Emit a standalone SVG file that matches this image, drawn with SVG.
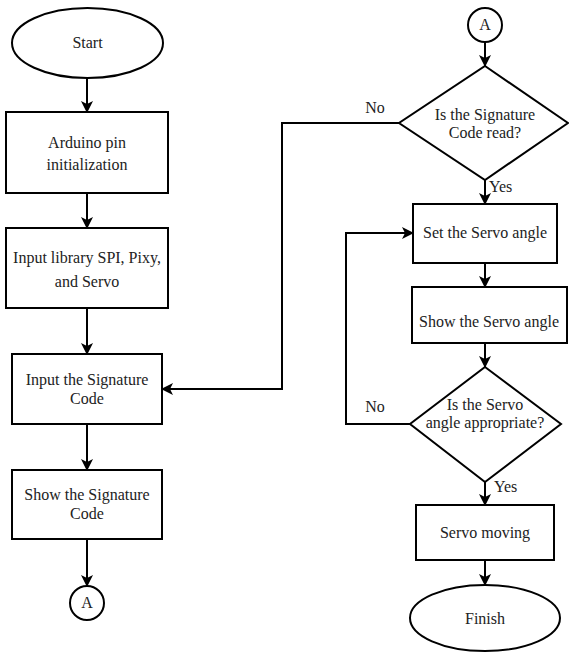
<svg xmlns="http://www.w3.org/2000/svg" width="569" height="653" viewBox="0 0 569 653">
<style>
.s{fill:#fff;stroke:#000;stroke-width:2}
.c{fill:none;stroke:#000;stroke-width:2}
text{font-family:'Liberation Serif','DejaVu Serif',serif;font-size:16px;fill:#222;text-anchor:middle}
.l{text-anchor:start}
</style>
<defs>
<marker id="ah" viewBox="0 0 12 12" refX="11" refY="6" markerWidth="12" markerHeight="12" markerUnits="userSpaceOnUse" orient="auto">
<path d="M0,0 L12,6 L0,12 L3,6 z" fill="#000"/>
</marker>
</defs>
<rect width="569" height="653" fill="#fff"/>
<g id="connectors">
<path class="c" d="M87,78 V112" marker-end="url(#ah)"/>
<path class="c" d="M87,193 V228" marker-end="url(#ah)"/>
<path class="c" d="M87,308 V354" marker-end="url(#ah)"/>
<path class="c" d="M87,424 V470" marker-end="url(#ah)"/>
<path class="c" d="M87,539 V586" marker-end="url(#ah)"/>
<path class="c" d="M485,42 V66" marker-end="url(#ah)"/>
<path class="c" d="M399,123 H282 V389 H162" marker-end="url(#ah)"/>
<path class="c" d="M485,180 V204" marker-end="url(#ah)"/>
<path class="c" d="M485,263 V287" marker-end="url(#ah)"/>
<path class="c" d="M485,343 V367" marker-end="url(#ah)"/>
<path class="c" d="M410,424 H346 V233 H413" marker-end="url(#ah)"/>
<path class="c" d="M485,482 V505" marker-end="url(#ah)"/>
<path class="c" d="M485,560 V585" marker-end="url(#ah)"/>
<text x="375" y="113">No</text>
<text class="l" x="489" y="192">Yes</text>
<text x="375" y="412">No</text>
<text class="l" x="494" y="492">Yes</text>
</g>
<g id="start">
<ellipse class="s" cx="87.5" cy="43" rx="75.5" ry="35"/>
<text x="87.5" y="48">Start</text>
</g>
<g id="init">
<rect class="s" x="6" y="112" width="162" height="81"/>
<text x="87" y="148">Arduino pin</text>
<text x="87" y="170">initialization</text>
</g>
<g id="library">
<rect class="s" x="6" y="228" width="162" height="80"/>
<text x="87" y="263">Input library SPI, Pixy,</text>
<text x="87" y="287">and Servo</text>
</g>
<g id="inputsig">
<rect class="s" x="12" y="354" width="150" height="70"/>
<text x="87" y="385">Input the Signature</text>
<text x="87" y="404">Code</text>
</g>
<g id="showsig">
<rect class="s" x="12" y="470" width="150" height="69"/>
<text x="87" y="500">Show the Signature</text>
<text x="87" y="519">Code</text>
</g>
<g id="connA1">
<circle class="s" cx="87" cy="603" r="17"/>
<text x="87" y="608">A</text>
</g>
<g id="connA2">
<circle class="s" cx="485" cy="25" r="17"/>
<text x="485" y="30">A</text>
</g>
<g id="decision1">
<polygon class="s" points="485,66 568,123 485,180 399,123"/>
<text x="485" y="120">Is the Signature</text>
<text x="485" y="138">Code read?</text>
</g>
<g id="setservo">
<rect class="s" x="413" y="204" width="144" height="59"/>
<text x="485" y="238">Set the Servo angle</text>
</g>
<g id="showservo">
<rect class="s" x="412" y="287" width="155" height="56"/>
<text x="489" y="327">Show the Servo angle</text>
</g>
<g id="decision2">
<polygon class="s" points="485,367 561,424 485,482 410,424"/>
<text x="485" y="410">Is the Servo</text>
<text x="485" y="428">angle appropriate?</text>
</g>
<g id="moving">
<rect class="s" x="416" y="505" width="138" height="55"/>
<text x="485" y="538">Servo moving</text>
</g>
<g id="finish">
<ellipse class="s" cx="485" cy="618" rx="75" ry="33"/>
<text x="485" y="624">Finish</text>
</g>
</svg>
